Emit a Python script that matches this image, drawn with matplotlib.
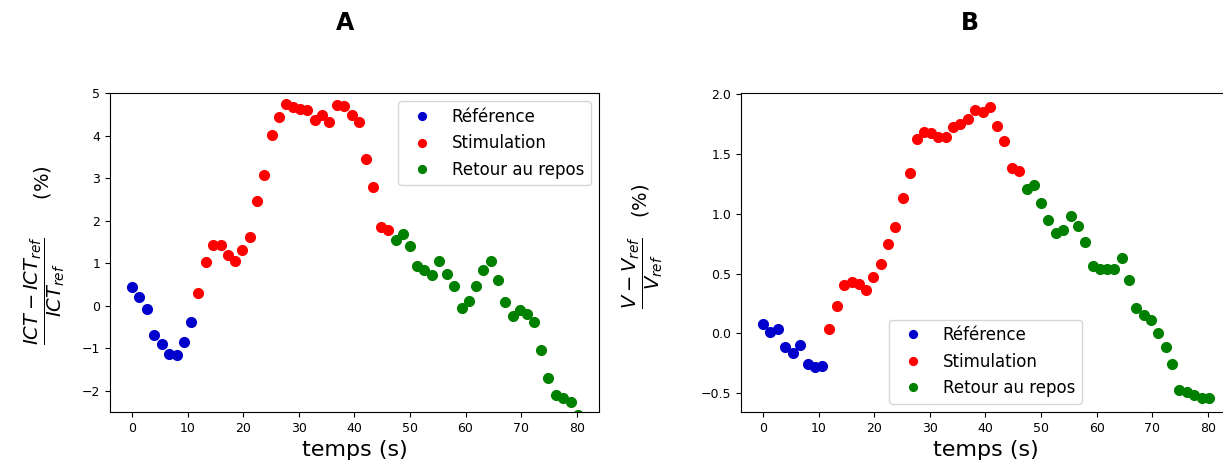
import matplotlib
matplotlib.use("Agg")
import matplotlib.pyplot as plt

# temps de mesure (s), communs aux deux graphes
temps = [0, 1.3, 2.7, 4.0, 5.3, 6.6, 8.0, 9.3, 10.6,
         11.9, 13.2, 14.5, 15.9, 17.2, 18.5, 19.8, 21.2, 22.5, 23.8,
         25.1, 26.4, 27.6, 28.9, 30.2, 31.5, 32.9, 34.2, 35.5, 36.8,
         38.2, 39.5, 40.8, 42.1, 43.4, 44.7, 46.0,
         47.4, 48.7, 50.0, 51.3, 52.6, 54.0, 55.3, 56.6, 57.9, 59.3,
         60.6, 61.9, 63.2, 64.5, 65.8, 67.1, 68.5, 69.8, 71.1, 72.4,
         73.6, 74.9, 76.2, 77.6, 78.9, 80.2]
n_ref = 9
n_stim = 27

# A : variation relative de l'ICT (%)
ict_ref = [0.43, 0.21, -0.09, -0.69, -0.89, -1.14, -1.16, -0.85, -0.39]
ict_stim = [0.29, 1.02, 1.43, 1.43, 1.19, 1.06, 1.32, 1.61, 2.47, 3.08,
            4.02, 4.44, 4.75, 4.67, 4.63, 4.61, 4.37, 4.49, 4.33, 4.72,
            4.70, 4.48, 4.31, 3.44, 2.78, 1.85, 1.77]
ict_repos = [1.54, 1.69, 1.40, 0.93, 0.84, 0.71, 1.06, 0.75, 0.47, -0.05,
             0.10, 0.47, 0.83, 1.06, 0.61, 0.09, -0.24, -0.10, -0.20, -0.39,
             -1.05, -1.71, -2.09, -2.18, -2.26, -2.56]

# B : variation relative du volume (%)
v_ref = [0.075, 0.01, 0.04, -0.11, -0.16, -0.10, -0.26, -0.28, -0.27]
v_stim = [0.04, 0.23, 0.40, 0.43, 0.41, 0.36, 0.47, 0.58, 0.75, 0.89,
          1.13, 1.34, 1.62, 1.68, 1.67, 1.64, 1.64, 1.72, 1.75, 1.79,
          1.87, 1.85, 1.89, 1.73, 1.61, 1.38, 1.36]
v_repos = [1.21, 1.24, 1.09, 0.95, 0.84, 0.86, 0.98, 0.90, 0.76, 0.565,
           0.54, 0.54, 0.54, 0.63, 0.445, 0.21, 0.15, 0.11, 0.0, -0.11,
           -0.26, -0.47, -0.49, -0.515, -0.54, -0.54]

labels = ['Référence', 'Stimulation', 'Retour au repos']
couleurs = ['mediumblue', 'red', 'green']

t_ref = temps[:n_ref]
t_stim = temps[n_ref:n_ref + n_stim]
t_repos = temps[n_ref + n_stim:]

fig = plt.figure(figsize=(12.23, 4.66), dpi=100)
axA = fig.add_axes([0.0899, 0.1159, 0.3998, 0.6845])
axB = fig.add_axes([0.6059, 0.1159, 0.3998, 0.6845])


def trace(ax, series):
    for (t, v), lab, c in zip(series, labels, couleurs):
        ax.plot(t, v, 'o', color=c, ms=7, label=lab)
    ax.set_xlim(-4, 84)
    ax.set_xticks(range(0, 81, 10))
    ax.tick_params(labelsize=9)
    ax.set_xlabel('temps (s)', fontsize=16)


trace(axA, [(t_ref, ict_ref), (t_stim, ict_stim), (t_repos, ict_repos)])
axA.set_ylim(-2.5, 5)
axA.set_ylabel(r'$\dfrac{ICT - ICT_{ref}}{ICT_{ref}}$      (%)', fontsize=14)
axA.yaxis.set_label_coords(-0.088, 0.49)
axA.legend(loc='upper right', fontsize=12, markerscale=0.8)

trace(axB, [(t_ref, v_ref), (t_stim, v_stim), (t_repos, v_repos)])
axB.set_ylim(-0.657, 2.008)
axB.set_ylabel(r'$\dfrac{V - V_{ref}}{V_{ref}}$   (%)', fontsize=14)
axB.yaxis.set_label_coords(-0.155, 0.52)
axB.legend(loc='lower center', fontsize=12, markerscale=0.8)

fig.text(0.282, 0.951, 'A', fontsize=17, fontweight='bold', ha='center', va='center')
fig.text(0.793, 0.951, 'B', fontsize=17, fontweight='bold', ha='center', va='center')

fig.savefig('out.png', dpi=100)
